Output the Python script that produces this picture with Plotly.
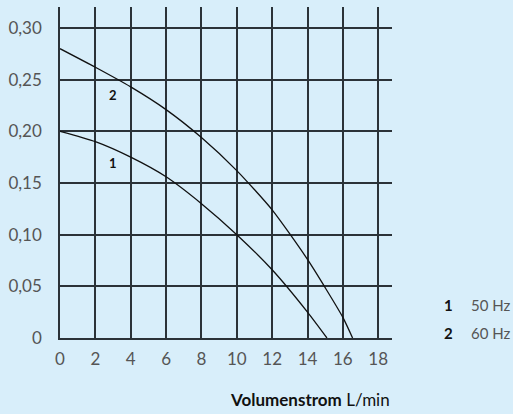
import plotly.graph_objects as go

# Pump curves: flow rate (L/min) vs. pressure
flow_50hz = [0, 2, 4, 6, 8, 10, 12, 14, 15.1]
head_50hz = [0.200, 0.190, 0.175, 0.156, 0.130, 0.100, 0.066, 0.025, 0.0]

flow_60hz = [0, 2, 4, 6, 8, 10, 12, 14, 16, 16.55]
head_60hz = [0.280, 0.262, 0.243, 0.221, 0.194, 0.162, 0.124, 0.076, 0.020, 0.0]

x_ticks = [0, 2, 4, 6, 8, 10, 12, 14, 16, 18]
y_ticks = [0, 0.05, 0.10, 0.15, 0.20, 0.25, 0.30]
y_tick_labels = ["0", "0,05", "0,10", "0,15", "0,20", "0,25", "0,30"]

curve_labels = ["1", "2"]
legend_labels = ["50 Hz", "60 Hz"]

BG = "#d8eefa"
GRID = "#2b3238"
TEXT = "#555555"
FONT = "Lato"

fig = go.Figure()
for xs, ys in [(flow_50hz, head_50hz), (flow_60hz, head_60hz)]:
    fig.add_trace(go.Scatter(
        x=xs, y=ys, mode="lines",
        line=dict(color="#111111", width=1.3, shape="spline", smoothing=0.6),
        showlegend=False, hoverinfo="skip",
    ))

# curve numbers next to each curve
fig.add_annotation(x=3, y=0.169, text="<b>1</b>", showarrow=False,
                   font=dict(family=FONT, size=13, color="#111111"))
fig.add_annotation(x=3, y=0.235, text="<b>2</b>", showarrow=False,
                   font=dict(family=FONT, size=13, color="#111111"))

# legend block
for i, (num, lab) in enumerate(zip(curve_labels, legend_labels)):
    fig.add_annotation(xref="paper", yref="paper", x=1.19, y=0.099 - i * 0.085,
                       xanchor="right", yanchor="middle", showarrow=False,
                       text=f"<b>{num}</b>", font=dict(family=FONT, size=15, color="#111111"))
    fig.add_annotation(xref="paper", yref="paper", x=1.232, y=0.099 - i * 0.085,
                       xanchor="left", yanchor="middle", showarrow=False,
                       text=lab, font=dict(family=FONT, size=15, color=TEXT))

# axis title
fig.add_annotation(xref="paper", yref="paper", x=0.999, y=-0.185,
                   xanchor="right", yanchor="middle", showarrow=False,
                   text="<b>Volumenstrom</b> L/min",
                   font=dict(family=FONT, size=17, color="#111111"))

tickfont = dict(family=FONT, size=17, color=TEXT)

fig.update_layout(
    width=513, height=414,
    margin=dict(l=60, r=121, t=7, b=76),
    paper_bgcolor=BG, plot_bgcolor=BG,
    font=dict(family=FONT, size=15, color=TEXT),
    xaxis=dict(range=[0, 18.78], tickvals=x_ticks, showgrid=True,
               gridcolor=GRID, gridwidth=1.5, zeroline=False,
               showline=True, linecolor=GRID, linewidth=1.5,
               ticks="", ticklabelstandoff=5, tickfont=tickfont, fixedrange=True),
    yaxis=dict(range=[0, 0.3203], tickvals=y_ticks, ticktext=y_tick_labels,
               showgrid=True, gridcolor=GRID, gridwidth=1.5, zeroline=False,
               showline=True, linecolor=GRID, linewidth=1.5,
               ticks="", ticklabelstandoff=13, tickfont=tickfont, fixedrange=True),
)

fig.write_html("out.html")
